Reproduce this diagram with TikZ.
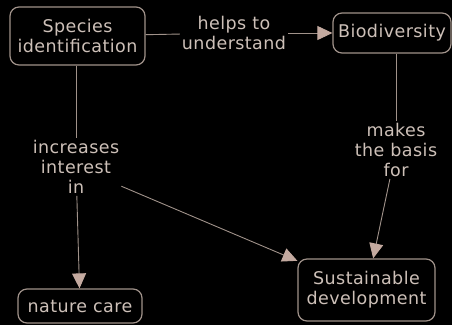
\documentclass[tikz,border=0pt]{standalone}
\usepackage{fontspec}
\setmainfont{DejaVu Sans}[LetterSpace=2.5]
\usetikzlibrary{arrows.meta}
\definecolor{chalk}{RGB}{205,192,184}
\definecolor{rim}{RGB}{160,146,138}
\definecolor{tipc}{RGB}{196,170,160}

\begin{document}
\begin{tikzpicture}[x=1pt,y=-1pt,
  font=\fontsize{17.5}{20}\selectfont,
  concept/.style={draw=rim, line width=1.2pt, rounded corners=9pt, fill=black, text=chalk, align=center, inner sep=0pt},
  phrase/.style={text=chalk, align=center, inner sep=2pt},
  link/.style={draw=rim, line width=0.9pt},
  leads/.style={link, -{Triangle[length=15pt,width=14pt,color=tipc]}}]
\fill[black] (0,0) rectangle (452,325);
\useasboundingbox (0,0) rectangle (452,325);

% concepts
\node[concept, minimum width=135pt, minimum height=58pt] (species) at (77.5,36) {Species\\identification};
\node[concept, minimum width=118pt, minimum height=40pt] (bio) at (392,33) {Biodiversity};
\node[concept, minimum width=124pt, minimum height=34pt] (care) at (80,306) {nature care};
\node[concept, minimum width=137pt, minimum height=62pt] (sust) at (366.5,290) {Sustainable\\development};

% linking phrases
\node[phrase] (helps) at (234,33) {helps to\\understand};
\node[phrase] (incr) at (76,167) {increases\\interest\\in};
\node[phrase] (makes) at (396,150) {makes\\the basis\\for};

\draw[link] (species) -- (helps);
\draw[leads] (helps) -- (bio);
\draw[link] (species.south -| incr) -- (incr);
\draw[leads] (incr) -- (care);
\draw[leads] (incr) -- (sust);
\draw[link] (bio.south -| makes) -- (makes);
\draw[leads] (makes) -- (sust);
\end{tikzpicture}
\end{document}
